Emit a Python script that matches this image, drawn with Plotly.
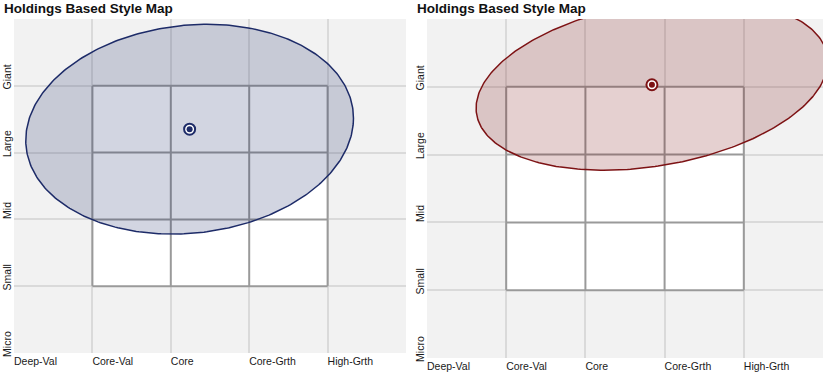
import numpy as np
import plotly.graph_objects as go

# ---------------- data ----------------
style_labels = ["Deep-Val", "Core-Val", "Core", "Core-Grth", "High-Grth"]
size_labels = ["Micro", "Small", "Mid", "Large", "Giant"]
box_style = ["Core-Val", "Core", "Core-Grth"]
box_size = ["Small", "Mid", "Large"]

chart_titles = ["Holdings Based Style Map", "Holdings Based Style Map"]
centroid_style = [2.24, 2.84]
centroid_size = [3.35, 4.03]
style_spread = [2.09, 2.22]
size_spread = [1.57, 1.26]
spread_tilt = [0.165, 0.344]

line_colors = ["#1d2b68", "#7d1214"]
fill_colors = ["rgba(29,43,104,0.20)", "rgba(125,18,20,0.20)"]

# ---------------- layout helpers ----------------
W, H = 831, 377
x_domains = [[14 / W, 406 / W], [427 / W, 823 / W]]
y_domains = [[1 - 353 / H, 1 - 19 / H], [1 - 358 / H, 1 - 19 / H]]

fig = go.Figure()
shapes = []
annotations = []
n_cols = len(style_labels)
n_rows = len(size_labels)
bx0 = style_labels.index(box_style[0])
bx1 = style_labels.index(box_style[-1]) + 1
by0 = size_labels.index(box_size[0])
by1 = size_labels.index(box_size[-1]) + 1

t = np.linspace(0, 2 * np.pi, 361)
for i in range(2):
    sfx = "" if i == 0 else str(i + 1)
    xr, yr = "x" + sfx, "y" + sfx
    # white style box
    shapes.append(dict(type="rect", xref=xr, yref=yr, x0=bx0, x1=bx1, y0=by0, y1=by1,
                       fillcolor="white", line=dict(width=0), layer="between"))
    for k in range(bx0, bx1 + 1):
        shapes.append(dict(type="line", xref=xr, yref=yr, x0=k, x1=k, y0=by0, y1=by1,
                           line=dict(color="#9a9a9a", width=2), layer="between"))
    for k in range(by0, by1 + 1):
        shapes.append(dict(type="line", xref=xr, yref=yr, x0=bx0, x1=bx1, y0=k, y1=k,
                           line=dict(color="#9a9a9a", width=2), layer="between"))

    cx, cy = centroid_style[i], centroid_size[i]
    rx, ry, kt = style_spread[i], size_spread[i], spread_tilt[i]
    s = np.sqrt(ry ** 2 - kt ** 2)
    ex = cx + rx * np.cos(t)
    ey = cy + kt * np.cos(t) + s * np.sin(t)
    fig.add_trace(go.Scatter(x=ex, y=ey, mode="lines", fill="toself",
                             fillcolor=fill_colors[i],
                             line=dict(color=line_colors[i], width=1.5),
                             xaxis=xr, yaxis=yr, hoverinfo="skip", showlegend=False))
    fig.add_trace(go.Scatter(x=[cx], y=[cy], mode="markers",
                             marker=dict(size=11, color="white",
                                         line=dict(color=line_colors[i], width=2)),
                             xaxis=xr, yaxis=yr, showlegend=False, cliponaxis=False))
    fig.add_trace(go.Scatter(x=[cx], y=[cy], mode="markers",
                             marker=dict(size=6, color=line_colors[i]),
                             xaxis=xr, yaxis=yr, showlegend=False, cliponaxis=False))

    fig.layout["xaxis" + sfx] = dict(
        domain=x_domains[i], range=[0, n_cols], anchor=yr, automargin=False,
        tickvals=list(range(n_cols)), ticktext=style_labels,
        ticklabelposition="outside right", ticks="", showline=False, zeroline=False,
        showgrid=True, gridcolor="#dadada", gridwidth=2,
        tickfont=dict(family="Arial", size=10.5, color="#1a1a1a"),
        fixedrange=True)
    fig.layout["yaxis" + sfx] = dict(
        domain=y_domains[i], range=[0, n_rows], anchor=xr, automargin=False,
        tickvals=list(range(n_rows)), ticktext=size_labels,
        tickangle=-90, ticklabelposition="outside top", ticks="",
        showline=False, zeroline=False,
        showgrid=True, gridcolor="#dadada", gridwidth=2,
        tickfont=dict(family="Arial", size=10.5, color="#1a1a1a"),
        fixedrange=True)
    annotations.append(dict(text="<b>" + chart_titles[i] + "</b>", xref="paper", yref="paper",
                            x=x_domains[i][0] - 12 / W, y=1 - 8 / H,
                            xanchor="left", yanchor="middle", showarrow=False,
                            font=dict(family="Arial", size=13.5, color="#111")))

fig.update_layout(width=W, height=H, margin=dict(l=0, r=0, t=0, b=0, autoexpand=False),
                  paper_bgcolor="white", plot_bgcolor="#f2f2f2",
                  shapes=shapes, annotations=annotations)
fig.write_html("out.html", config={"displayModeBar": False},
               post_script="document.body.style.margin='0';document.body.style.overflow='hidden';")
